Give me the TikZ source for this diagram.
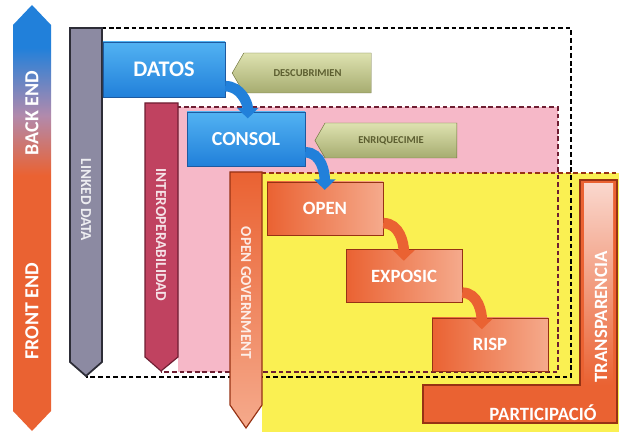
\documentclass[tikz,border=0pt]{standalone}
\usepackage{fontspec}
\setmainfont{Carlito}
\usepackage{xcolor}
\usepackage{tikz}
\usetikzlibrary{arrows.meta,shapes.symbols}
\definecolor{dsblue}{RGB}{33, 128, 218}
\definecolor{dsbluelight}{RGB}{82, 178, 242}
\definecolor{dsbluedark}{RGB}{30, 90, 160}
\definecolor{dsorange}{RGB}{234, 98, 50}
\definecolor{dssalmon}{RGB}{245, 170, 140}
\definecolor{dspale}{RGB}{250, 215, 205}
\definecolor{dsbrown}{RGB}{150, 50, 20}
\definecolor{dsmauve}{RGB}{178, 138, 172}
\definecolor{dsgray}{RGB}{140, 138, 162}
\definecolor{dsgraydark}{RGB}{45, 45, 55}
\definecolor{dscrimson}{RGB}{192, 66, 96}
\definecolor{dscrimsondark}{RGB}{110, 30, 50}
\definecolor{dspink}{RGB}{246, 184, 200}
\definecolor{dsyellow}{RGB}{250, 240, 82}
\definecolor{dsolivelight}{RGB}{222, 226, 176}
\definecolor{dsolive}{RGB}{166, 172, 112}
\definecolor{dsolivedark}{RGB}{110, 115, 60}
\definecolor{dsolivetext}{RGB}{92, 94, 48}

\pgfdeclareverticalshading{backfront}{100bp}{color(0bp)=(dsorange); color(55bp)=(dsorange); color(62bp)=(dsmauve); color(70bp)=(dsblue); color(100bp)=(dsblue)}

\tikzset{
  bluebox/.style={draw=dsbluedark, top color=dsbluelight, bottom color=dsblue, text=white,
    font=\bfseries\fontsize{19}{21}\selectfont, inner sep=0pt},
  orangebox/.style={draw=dsbrown, left color=dsorange, right color=dssalmon, text=white,
    font=\bfseries\fontsize{16}{18}\selectfont, minimum width=3.48cm, minimum height=1.6cm, inner sep=0pt},
  olivetag/.style={signal, signal to=west, signal pointer angle=120, draw=dsolivedark,
    top color=dsolivelight, bottom color=dsolive, text=dsolivetext,
    font=\bfseries\fontsize{9}{10}\selectfont, inner sep=0pt},
  bluelink/.style={draw=dsblue, line width=9pt, -{Triangle[width=18pt,length=9pt]}},
  orangelink/.style={draw=dsorange, line width=9pt, -{Triangle[width=18pt,length=9pt]}},
  columntext/.style={rotate=-90, text=white, opacity=0.85, font=\bfseries\fontsize{13}{14}\selectfont},
  sidetext/.style={rotate=90, text=white, font=\bfseries\fontsize{17}{19}\selectfont},
  regiondash/.style={line width=2.4pt, dash pattern=on 4pt off 2.5pt}
}

\begin{document}
\begin{tikzpicture}[x=0.03cm, y=-0.03cm]
\useasboundingbox (0,0) rectangle (619,432);

% Back end / front end arrow
\shade[shading=backfront] (13,25) -- (32,5) -- (51,25) -- (51,411) -- (32,431) -- (13,411) -- cycle;
\node[sidetext] (backend) at (32,113) {BACK END};
\node[sidetext] (frontend) at (32,311) {FRONT END};

% Regions
\fill[dspink] (178,107) rectangle (558,372);
\fill[dsyellow] (262,173) rectangle (619,432);
\draw[regiondash, black] (86,28) -- (571,28) -- (571,377) -- (86,377);
\draw[regiondash, dscrimsondark] (161,107) -- (558,107) -- (558,372) -- (161,372);
\draw[regiondash, dsbrown] (246,173) -- (619,173);

% Columns
\fill[dsgray, draw=dsgraydark, line width=1.5pt] (70,28) -- (102,28) -- (102,362) -- (86,376) -- (70,362) -- cycle;
\node[columntext] (linked) at (86,200) {LINKED DATA};

\fill[dscrimson, draw=dscrimsondark, line width=1pt] (145,103) -- (178,103) -- (178,357) -- (161,371) -- (145,357) -- cycle;
\node[columntext] (interop) at (161,235) {INTEROPERABILIDAD};

\shade[top color=dsorange, bottom color=dssalmon, draw=dsbrown, line width=1pt] (230,172) -- (262,172) -- (262,405) -- (246,428) -- (230,405) -- cycle;
\node[columntext] (opengov) at (246,293) {OPEN GOVERNMENT};

% Transparencia / participacio
\fill[dsorange, draw=dsbrown, line width=1pt] (580,180) -- (617,180) -- (617,423) -- (423,423) -- (423,385) -- (580,385) -- cycle;
\shade[top color=dspale, bottom color=dsorange] (584,184) rectangle (613,385);
\node[sidetext, font=\bfseries\fontsize{16}{18}\selectfont] (transp) at (601,317) {TRANSPARENCIA};
\node[text=white, font=\bfseries\fontsize{16}{18}\selectfont] (partic) at (543,413) {PARTICIPACIÓ};

% Boxes
\node[bluebox, minimum width=3.66cm, minimum height=1.65cm] (datos) at (164,69.5) {DATOS};
\node[bluebox, font=\bfseries\fontsize{17}{19}\selectfont, minimum width=3.54cm, minimum height=1.62cm] (consol) at (246,139) {CONSOL};
\node[olivetag, minimum width=4.17cm, minimum height=1.2cm] (descub) at (307.5,73) {DESCUBRIMIEN};
\node[olivetag, minimum width=4.26cm, minimum height=1.05cm] (enriq) at (391,140.5) {ENRIQUECIMIE};

\foreach \name/\txt/\cx/\cy in {open/OPEN/325/208.5, exposic/EXPOSIC/404/276, risp/RISP/490/344.5}
  \node[orangebox] (\name) at (\cx,\cy) {\txt};

% Links
\draw[bluelink] ([yshift=-0.5cm]datos.east) to[out=0, in=90] ([xshift=1.83cm, yshift=-0.2cm]consol.north west);
\draw[bluelink] ([yshift=-0.4cm]consol.east) to[out=0, in=90] ([xshift=1.74cm, yshift=-0.25cm]open.north west);
\draw[orangelink] ([yshift=-0.44cm]open.east) to[out=0, in=90] ([xshift=1.74cm, yshift=-0.35cm]exposic.north west);
\draw[orangelink] ([yshift=-0.5cm]exposic.east) to[out=0, in=90] ([xshift=1.5cm, yshift=-0.35cm]risp.north west);
\end{tikzpicture}
\end{document}
